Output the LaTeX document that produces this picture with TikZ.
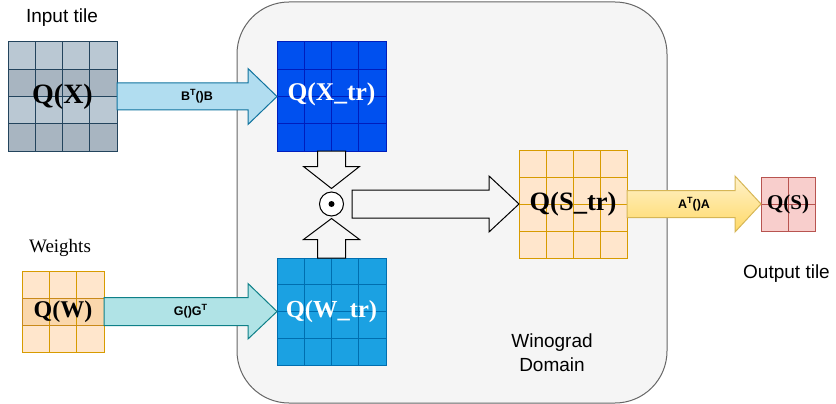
\documentclass[tikz,border=0pt]{standalone}
\usepackage{fontspec}
\setmainfont{Liberation Serif}
\newfontfamily\arialf{Liberation Sans}
\usetikzlibrary{calc}
\definecolor{domfill}{HTML}{F5F5F5}
\definecolor{domline}{HTML}{666666}
\definecolor{gbl}{HTML}{BAC8D3}
\definecolor{gbd}{HTML}{A8B5C1}
\definecolor{gbs}{HTML}{23445D}
\definecolor{btfill}{HTML}{B1DDF0}
\definecolor{btline}{HTML}{10739E}
\definecolor{ggfill}{HTML}{B0E3E6}
\definecolor{ggline}{HTML}{0E8088}
\definecolor{xtrfill}{HTML}{0050EF}
\definecolor{xtrline}{HTML}{001DBC}
\definecolor{wtrfill}{HTML}{1BA1E2}
\definecolor{wtrline}{HTML}{006EAF}
\definecolor{orfill}{HTML}{FFE6CC}
\definecolor{orline}{HTML}{D79B00}
\definecolor{ormid}{HTML}{FAD7AC}
\definecolor{ormidline}{HTML}{C98A1A}
\definecolor{sfill}{HTML}{F8CECC}
\definecolor{sline}{HTML}{B85450}
\definecolor{yltop}{HTML}{FFF2CC}
\definecolor{ylbot}{HTML}{FFD966}
\definecolor{ylline}{HTML}{D6B656}
\newcommand\vlinesof[3]{\foreach \k in {#3} {\draw[#2] ($(#1.north west)!\k!(#1.north east)$) -- ($(#1.south west)!\k!(#1.south east)$);}}
\newcommand\hlinesof[3]{\foreach \k in {#3} {\draw[#2] ($(#1.north west)!\k!(#1.south west)$) -- ($(#1.north east)!\k!(#1.south east)$);}}
\newcommand\supT{\raisebox{0.42em}{\fontsize{9}{9}\selectfont T}}
\begin{document}
\begin{tikzpicture}[x=1pt,y=-1pt,
  gridbox/.style={draw, line width=1pt, inner sep=0pt, outer sep=0pt},
  qlab/.style={inner sep=0pt, font=\bfseries},
  sanslab/.style={inner sep=0pt, font=\arialf\fontsize{19}{22}\selectfont},
  arrlab/.style={inner sep=0pt, font=\arialf\bfseries\fontsize{12.5}{14}\selectfont},
  blockarr/.style={draw=black, fill=domfill, line width=1pt, line join=miter}
]
\useasboundingbox (0,0) rectangle (836,404);

% Winograd domain
\node[draw=domline, fill=domfill, line width=1pt, rounded corners=52pt,
      minimum width=430pt, minimum height=401pt, inner sep=0pt] (dom) at (452,202.5) {};

% Q(X) input tile
\node[gridbox, draw=gbs, fill=gbl, minimum width=109pt, minimum height=109pt] (QX) at (62.5,96.5) {};
\fill[gbd] ($(QX.north west)!0.25!(QX.south west)$) rectangle ($(QX.north east)!0.5!(QX.south east)$);
\fill[gbd] ($(QX.north west)!0.75!(QX.south west)$) rectangle (QX.south east);
\vlinesof{QX}{gbs, line width=1pt}{0.25,0.5,0.75}
\hlinesof{QX}{gbs, line width=1pt}{0.25,0.5,0.75}
\draw[gbs, line width=1pt] (QX.north west) rectangle (QX.south east);

% Q(W) weights
\node[gridbox, draw=orline, fill=orfill, minimum width=82pt, minimum height=81pt] (QW) at (63,311.5) {};
\fill[ormid] ($(QW.north west)!1/3!(QW.south west)$) rectangle ($(QW.north east)!2/3!(QW.south east)$);
\vlinesof{QW}{orline, line width=1pt}{1/3,2/3}
\draw[ormidline, line width=1pt] ($(QW.north west)!1/3!(QW.south west)$) rectangle ($(QW.north east)!2/3!(QW.south east)$);

% Q(X_tr)
\node[gridbox, draw=xtrline, fill=xtrfill, minimum width=109pt, minimum height=109pt] (QXtr) at (331.5,96.5) {};
\vlinesof{QXtr}{xtrline, line width=1pt}{0.25,0.5,0.75}
\hlinesof{QXtr}{xtrline, line width=1pt}{0.25,0.5,0.75}

% Q(W_tr)
\node[gridbox, draw=wtrline, fill=wtrfill, minimum width=109pt, minimum height=107pt] (QWtr) at (331.5,311.5) {};
\vlinesof{QWtr}{wtrline, line width=1pt}{0.25,0.5,0.75}
\hlinesof{QWtr}{wtrline, line width=1pt}{0.25,0.5,0.75}

% Q(S_tr)
\node[gridbox, draw=orline, fill=orfill, minimum width=108pt, minimum height=108pt] (QStr) at (573,204) {};
\vlinesof{QStr}{orline, line width=1pt}{0.25,0.5,0.75}
\hlinesof{QStr}{orline, line width=1pt}{0.25,0.5,0.75}

% Q(S)
\node[gridbox, draw=sline, fill=sfill, minimum width=54pt, minimum height=54pt] (QS) at (788,204) {};
\vlinesof{QS}{sline, line width=1pt}{0.5}
\hlinesof{QS}{sline, line width=1pt}{0.5}

% Hadamard product circle
\node[circle, draw=black, fill=white, line width=1pt, minimum size=24pt, inner sep=0pt] (dot) at (331.5,204) {};
\node[circle, fill=black, minimum size=6pt, inner sep=0pt] (dotc) at (dot) {};

% B^T()B arrow
\draw[draw=btline, fill=btfill, line width=1pt]
  ($(QX.east)+(0,-13.5)$) -- ($(QXtr.west)+(-29,-13.5)$) -- ($(QXtr.west)+(-29,-28)$) -- (QXtr.west)
  -- ($(QXtr.west)+(-29,28)$) -- ($(QXtr.west)+(-29,13.5)$) -- ($(QX.east)+(0,13.5)$) -- cycle;
\node[arrlab] (lBT) at ($(QX.east)!0.5!(QXtr.west)$) {B\supT()B};

% G()G^T arrow
\draw[draw=ggline, fill=ggfill, line width=1pt]
  ($(QW.east)+(0,-14)$) -- ($(QWtr.west)+(-29,-14)$) -- ($(QWtr.west)+(-29,-28)$) -- (QWtr.west)
  -- ($(QWtr.west)+(-29,27.5)$) -- ($(QWtr.west)+(-29,14)$) -- ($(QW.east)+(0,14)$) -- cycle;
\node[arrlab] (lGG) at ($(QW.east)!0.5!(QWtr.west)$) {G()G\supT};

% A^T()A arrow
\draw[draw=ylline, top color=yltop, bottom color=ylbot, line width=1pt]
  ($(QStr.east)+(0,-13.5)$) -- ($(QS.west)+(-26,-13.5)$) -- ($(QS.west)+(-26,-28)$) -- (QS.west)
  -- ($(QS.west)+(-26,28)$) -- ($(QS.west)+(-26,13.5)$) -- ($(QStr.east)+(0,13.5)$) -- cycle;
\node[arrlab] (lAA) at ($(QStr.east)!0.5!(QS.west)$) {A\supT()A};

% down arrow from Q(X_tr) to circle
\coordinate (dtip) at ($(dot.north)+(0,-3)$);
\draw[blockarr]
  ($(QXtr.south)+(-14,0)$) -- ($(QXtr.south)+(14,0)$) -- ($(dtip)+(14,-22)$) -- ($(dtip)+(28,-22)$)
  -- (dtip) -- ($(dtip)+(-28,-22)$) -- ($(dtip)+(-14,-22)$) -- cycle;

% up arrow from Q(W_tr) to circle
\coordinate (utip) at ($(dot.south)+(0,2)$);
\draw[blockarr]
  ($(QWtr.north)+(-14,0)$) -- ($(QWtr.north)+(14,0)$) -- ($(utip)+(14,21)$) -- ($(utip)+(28,21)$)
  -- (utip) -- ($(utip)+(-28,21)$) -- ($(utip)+(-14,21)$) -- cycle;

% right arrow from circle to Q(S_tr)
\coordinate (rstart) at ($(dot.east)+(8,0)$);
\draw[blockarr]
  ($(rstart)+(0,-14)$) -- ($(QStr.west)+(-30,-14)$) -- ($(QStr.west)+(-30,-28)$) -- (QStr.west)
  -- ($(QStr.west)+(-30,28)$) -- ($(QStr.west)+(-30,14)$) -- ($(rstart)+(0,14)$) -- cycle;

% Q labels
\node[qlab, font=\bfseries\fontsize{28}{30}\selectfont] (tQX) at (QX) {Q(X)};
\node[qlab, font=\bfseries\fontsize{24}{26}\selectfont] (tQW) at (QW) {Q(W)};
\node[qlab, text=white, font=\bfseries\fontsize{25.5}{28}\selectfont] (tQXtr) at ($(QXtr)+(0,-2)$) {Q(X\_tr)};
\node[qlab, text=white, font=\bfseries\fontsize{24.5}{27}\selectfont] (tQWtr) at (QWtr) {Q(W\_tr)};
\node[qlab, font=\bfseries\fontsize{26.5}{29}\selectfont] (tQStr) at (QStr) {Q(S\_tr)};
\node[qlab, font=\bfseries\fontsize{21}{23}\selectfont] (tQS) at (QS) {Q(S)};

% captions
\node[sanslab, anchor=base] (cin) at (62,23) {Input tile};
\node[inner sep=0pt, anchor=base, font=\fontsize{19}{22}\selectfont] (cw) at (60,252) {Weights};
\node[sanslab, anchor=base] (cout) at (786.5,278) {Output tile};
\node[sanslab, anchor=base] (win1) at (552,347) {Winograd};
\node[sanslab, anchor=base] (win2) at (552,371) {Domain};
\end{tikzpicture}
\end{document}
